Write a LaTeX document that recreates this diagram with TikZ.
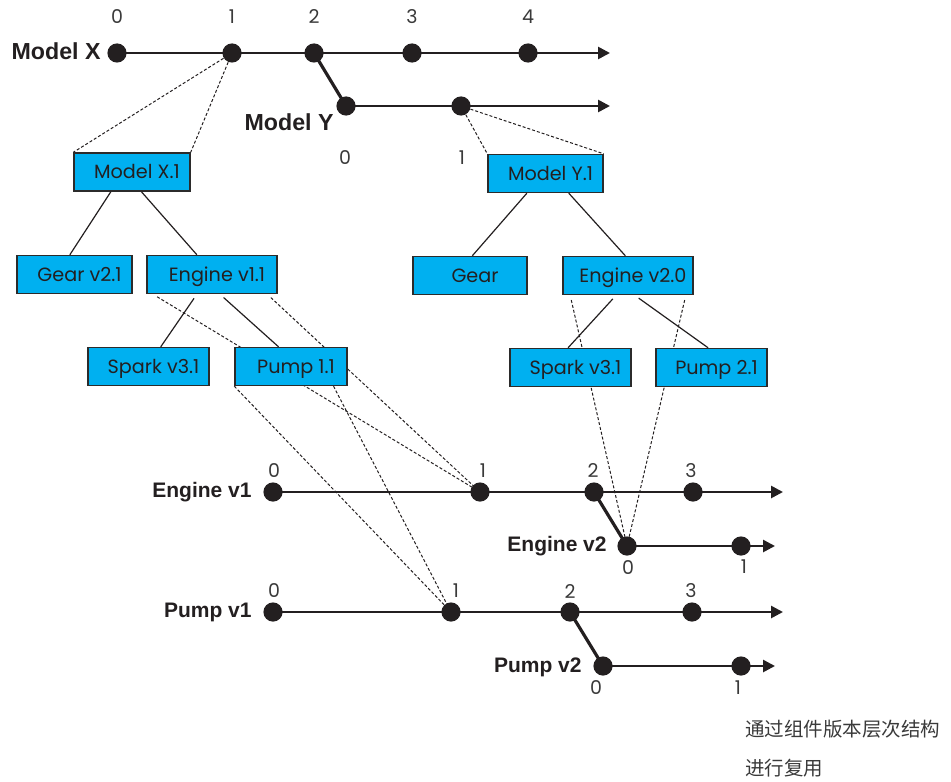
\documentclass[tikz,border=0pt]{standalone}
\usepackage{fontspec}
\newfontfamily\boxfont{Poppins}
\newfontfamily\lblfont{Liberation Sans}
\newfontfamily\cjkfont{Noto Sans CJK SC}
\usetikzlibrary{arrows.meta,backgrounds,calc}
\definecolor{boxblue}{HTML}{00B0F0}
\definecolor{boxline}{HTML}{2B2B2B}
\definecolor{ink}{HTML}{231F20}
\definecolor{numgray}{HTML}{3A3A3A}
\begin{document}
\begin{tikzpicture}[x=0.5pt,y=-0.5pt,>={Triangle[length=6pt,width=6pt]},
		box/.style={draw=boxline,line width=0.7pt,fill=boxblue,minimum height=19pt,inner sep=0pt,text height=6.6pt,text depth=0pt,text=ink,font=\boxfont\fontsize{9.6}{10}\selectfont,execute at begin node=\hspace*{5pt}},
		dot/.style={circle,fill=ink,minimum size=9.6pt,inner sep=0pt},
		track/.style={draw=ink,line width=1.3pt},
		fork/.style={draw=ink,line width=1.6pt},
		tree/.style={draw=ink,line width=0.6pt},
		proj/.style={draw=ink,line width=0.5pt,dash pattern=on 1.5pt off 1pt},
		num/.style={inner sep=0pt,text=numgray,font=\boxfont\fontsize{9.5}{10}\selectfont},
		lbl/.style={inner sep=0pt,anchor=east,text=ink,font=\lblfont\bfseries\fontsize{10.5}{12}\selectfont},
		big/.style={font=\lblfont\bfseries\fontsize{11.6}{13}\selectfont}]
			\useasboundingbox (0,0) rectangle (951,781);
			\node [dot] (x0) at (117,53) {};
			\node [dot] (x1) at (232,53) {};
			\node [dot] (x2) at (314,53) {};
			\node [dot] (x3) at (412,53) {};
			\node [dot] (x4) at (528,53) {};
			\coordinate (xend) at (610,53);
			\node [dot] (y0) at (346,106) {};
			\node [dot] (y1) at (461,106) {};
			\coordinate (yend) at (610,106);
			\node [lbl,big] (lx) at (101,51) {Model X};
			\node [lbl,big] (ly) at (334,122) {Model Y};
			\node [num] (nx0) at (117,17) {0};
			\node [num] (nx1) at (232,17) {1};
			\node [num] (nx2) at (314,17) {2};
			\node [num] (nx3) at (412,17) {3};
			\node [num] (nx4) at (528,17) {4};
			\node [num] (ny0) at (345,158) {0};
			\node [num] (ny1) at (462,158) {1};
			\node [box,minimum width=58pt] (mx1) at (132,172) {Model X.1};
			\node [box,minimum width=57.5pt] (my1) at (545.5,173.5) {Model Y.1};
			\node [box,minimum width=57.5pt] (gear21) at (74.5,274.5) {Gear v2.1};
			\node [box,minimum width=65pt] (ev11) at (212,274.5) {Engine v1.1};
			\node [box,minimum width=60.5pt] (sparka) at (148.5,366.5) {Spark v3.1};
			\node [box,minimum width=56pt] (pump11) at (291,366.5) {Pump 1.1};
			\node [box,minimum width=57pt] (gear) at (470,275.5) {Gear};
			\node [box,minimum width=65pt] (ev20) at (628,275.5) {Engine v2.0};
			\node [box,minimum width=60.5pt] (sparkb) at (570.5,367.5) {Spark v3.1};
			\node [box,minimum width=55.5pt] (pump21) at (711.5,367.5) {Pump 2.1};
			\node [dot] (ea0) at (273,492) {};
			\node [dot] (ea1) at (480,492) {};
			\node [dot] (ea2) at (594,492) {};
			\node [dot] (ea3) at (693,492) {};
			\coordinate (eaend) at (783,492);
			\node [dot] (eb0) at (627,546) {};
			\node [dot] (eb1) at (741,546) {};
			\coordinate (ebend) at (775,546);
			\node [dot] (pa0) at (273,612) {};
			\node [dot] (pa1) at (451,612) {};
			\node [dot] (pa2) at (570,612) {};
			\node [dot] (pa3) at (692,612) {};
			\coordinate (paend) at (783,612);
			\node [dot] (pb0) at (603,666) {};
			\node [dot] (pb1) at (741,666) {};
			\coordinate (pbend) at (775,666);
			\node [lbl] (lea) at (252,492) {Engine v1};
			\node [lbl] (leb) at (607,546) {Engine v2};
			\node [lbl] (lpa) at (252,612) {Pump v1};
			\node [lbl] (lpb) at (582,667) {Pump v2};
			\node [num] (nea0) at (274,471) {0};
			\node [num] (nea1) at (483,471) {1};
			\node [num] (nea2) at (593,471) {2};
			\node [num] (nea3) at (691,471) {3};
			\node [num] (neb0) at (628,568) {0};
			\node [num] (neb1) at (744,567) {1};
			\node [num] (npa0) at (274,591) {0};
			\node [num] (npa1) at (456,591) {1};
			\node [num] (npa2) at (570,591) {2};
			\node [num] (npa3) at (691,591) {3};
			\node [num] (npb0) at (596,688) {0};
			\node [num] (npb1) at (738,688) {1};
			\node [anchor=west,inner sep=0pt,text=numgray,font=\cjkfont\fontsize{9.75}{10}\selectfont] (note1) at (745,729) {通过组件版本层次结构};
			\node [anchor=west,inner sep=0pt,text=numgray,font=\cjkfont\fontsize{9.75}{10}\selectfont] (note2) at (745,768) {进行复用};
			\begin{scope}[on background layer]
				\draw [track,->] (x0.center) -- (xend);
				\draw [track,->] (y0.center) -- (yend);
				\draw [fork] (x2.center) -- (y0.center);
				\draw [track,->] (ea0.center) -- (eaend);
				\draw [track,->] (eb0.center) -- (ebend);
				\draw [fork] (ea2.center) -- (eb0.center);
				\draw [track,->] (pa0.center) -- (paend);
				\draw [track,->] (pb0.center) -- (pbend);
				\draw [fork] (pa2.center) -- (pb0.center);
				\draw [proj] (x1.center) -- (mx1.north west);
				\draw [proj] (x1.center) -- (mx1.north east);
				\draw [proj] (y1.center) -- (my1.north west);
				\draw [proj] (y1.center) -- (my1.north east);
				\draw [proj,shorten <=2.5pt] ($(ev11.south west)!.05!(ev11.south east)$) -- (ea1.center);
				\draw [proj,shorten <=2.5pt] ($(ev11.south west)!.92!(ev11.south east)$) -- (ea1.center);
				\draw [proj] (pump11.south west) -- (pa1.center);
				\draw [proj] ($(pump11.south west)!.875!(pump11.south east)$) -- (pa1.center);
				\draw [proj,shorten <=2.5pt] ($(ev20.south west)!.06!(ev20.south east)$) -- (eb0.center);
				\draw [proj,shorten <=2.5pt] ($(ev20.south west)!.94!(ev20.south east)$) -- (eb0.center);
			\end{scope}
			\draw [tree] ($(mx1.south west)!.32!(mx1.south east)$) -- ($(gear21.north west)!.46!(gear21.north east)$);
			\draw [tree] ($(mx1.south west)!.58!(mx1.south east)$) -- ($(ev11.north west)!.385!(ev11.north east)$);
			\draw [tree,shorten <=2.5pt] ($(ev11.south west)!.385!(ev11.south east)$) -- ($(sparka.north west)!.6!(sparka.north east)$);
			\draw [tree,shorten <=2.5pt] ($(ev11.south west)!.56!(ev11.south east)$) -- ($(pump11.north west)!.39!(pump11.north east)$);
			\draw [tree] ($(my1.south west)!.34!(my1.south east)$) -- ($(gear.north west)!.52!(gear.north east)$);
			\draw [tree] ($(my1.south west)!.70!(my1.south east)$) -- ($(ev20.north west)!.48!(ev20.north east)$);
			\draw [tree,shorten <=2.5pt] ($(ev20.south west)!.41!(ev20.south east)$) -- ($(sparkb.north west)!.48!(sparkb.north east)$);
			\draw [tree,shorten <=2.5pt] ($(ev20.south west)!.55!(ev20.south east)$) -- ($(pump21.north west)!.47!(pump21.north east)$);
		\end{tikzpicture}
\end{document}
